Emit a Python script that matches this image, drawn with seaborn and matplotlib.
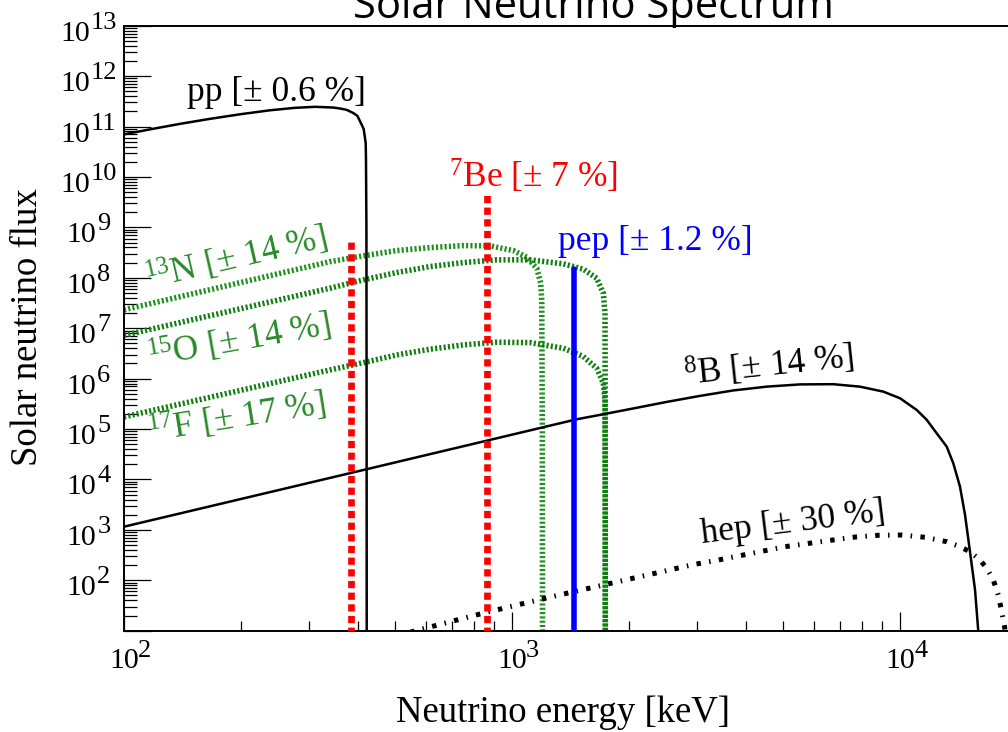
import numpy as np
import matplotlib
matplotlib.use("Agg")
import matplotlib.pyplot as plt
import seaborn as sns
from matplotlib.ticker import LogLocator, NullFormatter
from matplotlib.transforms import offset_copy

# ---------------- data (energy in keV, flux) ----------------
pp_energy = [100, 116.7, 139.4, 166.5, 199.1, 237.8, 275.9, 310.7, 346.3, 360.3, 375, 390,
             399.4, 410, 414.8, 419.7, 420.4, 421.5, 422.0, 422.3]
pp_flux = [7.0e10, 8.79e10, 1.13e11, 1.42e11, 1.75e11, 2.10e11, 2.35e11, 2.46e11, 2.38e11, 2.28e11,
           2.14e11, 1.85e11, 1.63e11, 1.08e11, 8.87e10, 4.69e10, 2.2e10, 1e9, 1e5, 1]

b8_energy = [100, 382, 1468, 1686, 2054, 2504, 3051, 3719, 4533, 5526, 6732, 7886, 9058, 10000,
             11042, 11720, 12430, 13194, 13720, 14276, 14710, 15150, 15610, 15910, 16080]
b8_flux = [1156, 1.33e4, 1.56e5, 1.91e5, 2.56e5, 3.45e5, 4.54e5, 5.83e5, 6.93e5, 7.68e5, 7.75e5,
           6.93e5, 5.52e5, 4.08e5, 2.39e5, 1.52e5, 8.26e4, 4.48e4, 2.09e4, 7.2e3, 1.98e3, 369, 64.3, 10, 1]

hep_energy = [480, 573.6, 860.6, 1290, 1955, 2933, 3336, 5053, 6668, 7656, 8790, 10102, 11600,
              13194, 14276, 15150, 16080, 16730, 17400, 17920, 18290, 18600, 18800, 19000]
hep_flux = [7.2, 10.3, 23.2, 48.8, 101, 205, 245, 464, 625, 720, 780, 790, 713,
            583, 464, 369, 253, 173, 101, 51, 23.8, 12, 5, 1]

n13_energy = [100, 339.6, 413.9, 504.5, 614.8, 749, 877.6, 1007.9, 1091, 1158, 1186, 1193, 1197, 1199]
n13_flux = [2.32e7, 2.09e8, 2.72e8, 3.47e8, 3.97e8, 4.35e8, 4.30e8, 3.47e8, 2.56e8, 1.55e8, 7.8e7,
            3.65e7, 1e5, 1]

o15_energy = [100, 339.6, 413.9, 504.5, 614.8, 749, 913, 1113, 1356, 1527, 1653, 1719, 1737, 1739, 1740]
o15_flux = [7.2e6, 6.22e7, 9.08e7, 1.27e8, 1.67e8, 2.0e8, 2.27e8, 2.27e8, 1.89e8, 1.48e8, 9.8e7,
            4.94e7, 1.99e7, 1e4, 1]

f17_energy = [100, 339.6, 413.9, 504.5, 614.8, 749, 913, 1113, 1356, 1527, 1653, 1719, 1737, 1739, 1740]
f17_flux = [1.74e5, 1.49e6, 2.07e6, 2.95e6, 3.83e6, 4.67e6, 5.27e6, 5.18e6, 4.01e6, 2.74e6, 1.61e6,
            8.1e5, 3.78e5, 1e3, 1]

be7_energy = [384.3, 861.3]
be7_flux = [5.4e8, 4.4e9]
pep_energy = 1442
pep_flux = 1.48e8

line_floor = 1.0

# ---------------- style ----------------
sns.set_theme(style="white")
plt.rcParams.update({
    "font.family": ["Liberation Serif", "DejaVu Serif"],
    "mathtext.fontset": "custom",
    "mathtext.rm": "Liberation Serif",
    "mathtext.it": "Liberation Serif:italic",
    "mathtext.bf": "Liberation Serif:bold",
    "lines.scale_dashes": False,
    "axes.edgecolor": "black",
    "text.color": "black",
    "axes.labelcolor": "black",
    "xtick.color": "black",
    "ytick.color": "black",
})

W, H, DPI = 1008, 732, 100
fig = plt.figure(figsize=(W / DPI, H / DPI), dpi=DPI)
fig.patch.set_facecolor("white")

x_left, x_right = 124.0, 1016.8
y_top, y_bot = 25.7, 630.7
ax = fig.add_axes([x_left / W, (H - y_bot) / H, (x_right - x_left) / W, (y_bot - y_top) / H])
ax.set_facecolor("white")
ax.set_xscale("log")
ax.set_yscale("log")
ax.set_xlim(100, 2e4)
ax.set_ylim(10, 1e13)


def curve(x, y, color, lw, dashes=None, z=2):
    sns.lineplot(x=x, y=y, ax=ax, color=color, linewidth=lw, sort=False,
                 estimator=None, errorbar=None, legend=False)
    ln = ax.lines[-1]
    if dashes is not None:
        ln.set_dashes(dashes)
    ln.set_dash_capstyle("butt")
    ln.set_solid_joinstyle("round")
    ln.set_zorder(z)
    return ln


GREEN_A = "#1c8f1c"
GREEN_B = "#0e7f0e"
GREEN_TXT = "#2a8a2a"

curve(pp_energy, pp_flux, "black", 1.8, z=3)
curve(b8_energy, b8_flux, "black", 1.8, z=3)
curve(hep_energy, hep_flux, "black", 3.6, dashes=(3.2, 6.0, 1.1, 6.0), z=3)
curve(n13_energy, n13_flux, GREEN_A, 4.0, dashes=(1.5, 1.6), z=2)
curve(o15_energy, o15_flux, GREEN_B, 4.0, dashes=(1.5, 1.6), z=2)
curve(f17_energy, f17_flux, GREEN_B, 4.0, dashes=(1.5, 1.6), z=2)
for e, f in zip(be7_energy, be7_flux):
    curve([e, e], [line_floor, f], "#ff0000", 4.8, dashes=(5.2, 3.2), z=4)
curve([pep_energy, pep_energy], [line_floor, pep_flux], "#0000ff", 4.0, z=4)

# ---------------- axes decoration ----------------
for side in ["left", "bottom", "top", "right"]:
    ax.spines[side].set_linewidth(1.4)
    ax.spines[side].set_color("black")

ax.xaxis.set_major_locator(LogLocator(base=10, numticks=30))
ax.xaxis.set_minor_locator(LogLocator(base=10, subs=np.arange(2, 10), numticks=30))
ax.yaxis.set_major_locator(LogLocator(base=10, numticks=30))
ax.yaxis.set_minor_locator(LogLocator(base=10, subs=np.arange(2, 10), numticks=30))
for a in (ax.xaxis, ax.yaxis):
    a.set_major_formatter(NullFormatter())
    a.set_minor_formatter(NullFormatter())

ax.tick_params(axis="y", which="major", direction="in", length=19.2, width=0.9, color="black", left=True)
ax.tick_params(axis="y", which="minor", direction="in", length=9.6, width=0.9, color="black", left=True)
ax.tick_params(axis="x", which="major", direction="in", length=13.7, width=0.9, color="black", bottom=True)
ax.tick_params(axis="x", which="minor", direction="in", length=7.2, width=0.9, color="black", bottom=True)


def pt(p):
    return p * 72.0 / DPI


BASE_FS = 21.5
EXP_FS = 19.0
base_px = BASE_FS / 72 * DPI
exp_px = EXP_FS / 72 * DPI

# y tick labels: "10" with a raised exponent, centred on a common column
y_center = 88.0
for k in range(2, 14):
    wb = base_px
    we = 0.5 * exp_px * len(str(k))
    split = y_center + (wb - we) / 2.0
    dx = pt(split - x_left)
    tb = offset_copy(ax.get_yaxis_transform(), fig=fig, x=dx, y=-pt(15.0), units="points")
    te = offset_copy(ax.get_yaxis_transform(), fig=fig, x=dx + pt(1.0), y=-pt(3.0), units="points")
    ax.text(0, 10.0 ** k, "10", transform=tb, ha="right", va="baseline", fontsize=BASE_FS,
            color="black", clip_on=False)
    ax.text(0, 10.0 ** k, str(k), transform=te, ha="left", va="baseline", fontsize=EXP_FS,
            color="black", clip_on=False)

# x tick labels: "10" centred on the tick, exponent to its right
for k in range(2, 5):
    tb = offset_copy(ax.get_xaxis_transform(), fig=fig, x=0, y=-pt(37.3), units="points")
    te = offset_copy(ax.get_xaxis_transform(), fig=fig, x=pt(14.0), y=-pt(26.0), units="points")
    ax.text(10.0 ** k, 0, "10", transform=tb, ha="center", va="baseline", fontsize=BASE_FS,
            color="black", clip_on=False)
    ax.text(10.0 ** k, 0, str(k), transform=te, ha="left", va="baseline", fontsize=EXP_FS,
            color="black", clip_on=False)

# axis titles and heading
fig.text(562.5 / W, 1 - 721.7 / H, "Neutrino energy [keV]", ha="center", va="baseline",
         fontsize=26.5, color="black")
fig.text(37.0 / W, 1 - 327.5 / H, "Solar neutrino flux", ha="center", va="baseline",
         rotation=90, rotation_mode="anchor", fontsize=26.5, color="black")
fig.text(593.0 / W, 1 - 18.0 / H, "Solar Neutrino Spectrum", ha="center", va="baseline",
         fontsize=30, family=["Open Sans", "DejaVu Sans"], color="black")

# ---------------- curve labels ----------------
LBL_FS = 25.5
ax.text(145.4, 3.24e11, "pp [± 0.6 %]", fontsize=LBL_FS, color="black", ha="left", va="baseline")
ax.text(688, 6.08e9, "$^{7}$Be [± 7 %]", fontsize=LBL_FS, color="#ff0000", ha="left", va="baseline")
ax.text(1314, 3.58e8, "pep [± 1.2 %]", fontsize=LBL_FS, color="#0000ff", ha="left", va="baseline")
ax.text(115.3, 5.75e7, "$^{13}$N [± 14 %]", fontsize=LBL_FS, color=GREEN_TXT, ha="left", va="baseline",
        rotation=13, rotation_mode="anchor")
ax.text(116.7, 1.63e6, "$^{15}$O [± 14 %]", fontsize=LBL_FS, color=GREEN_TXT, ha="left", va="baseline",
        rotation=10, rotation_mode="anchor")
ax.text(116.7, 5.3e4, "$^{17}$F [± 17 %]", fontsize=LBL_FS, color=GREEN_TXT, ha="left", va="baseline",
        rotation=9, rotation_mode="anchor")
ax.text(2792, 7.3e5, "$^{8}$B [± 14 %]", fontsize=LBL_FS, color="black", ha="left", va="baseline",
        rotation=6, rotation_mode="anchor")
ax.text(3088, 550, "hep [± 30 %]", fontsize=LBL_FS, color="black", ha="left", va="baseline",
        rotation=7, rotation_mode="anchor")

fig.savefig("out.png", dpi=DPI, facecolor="white")
